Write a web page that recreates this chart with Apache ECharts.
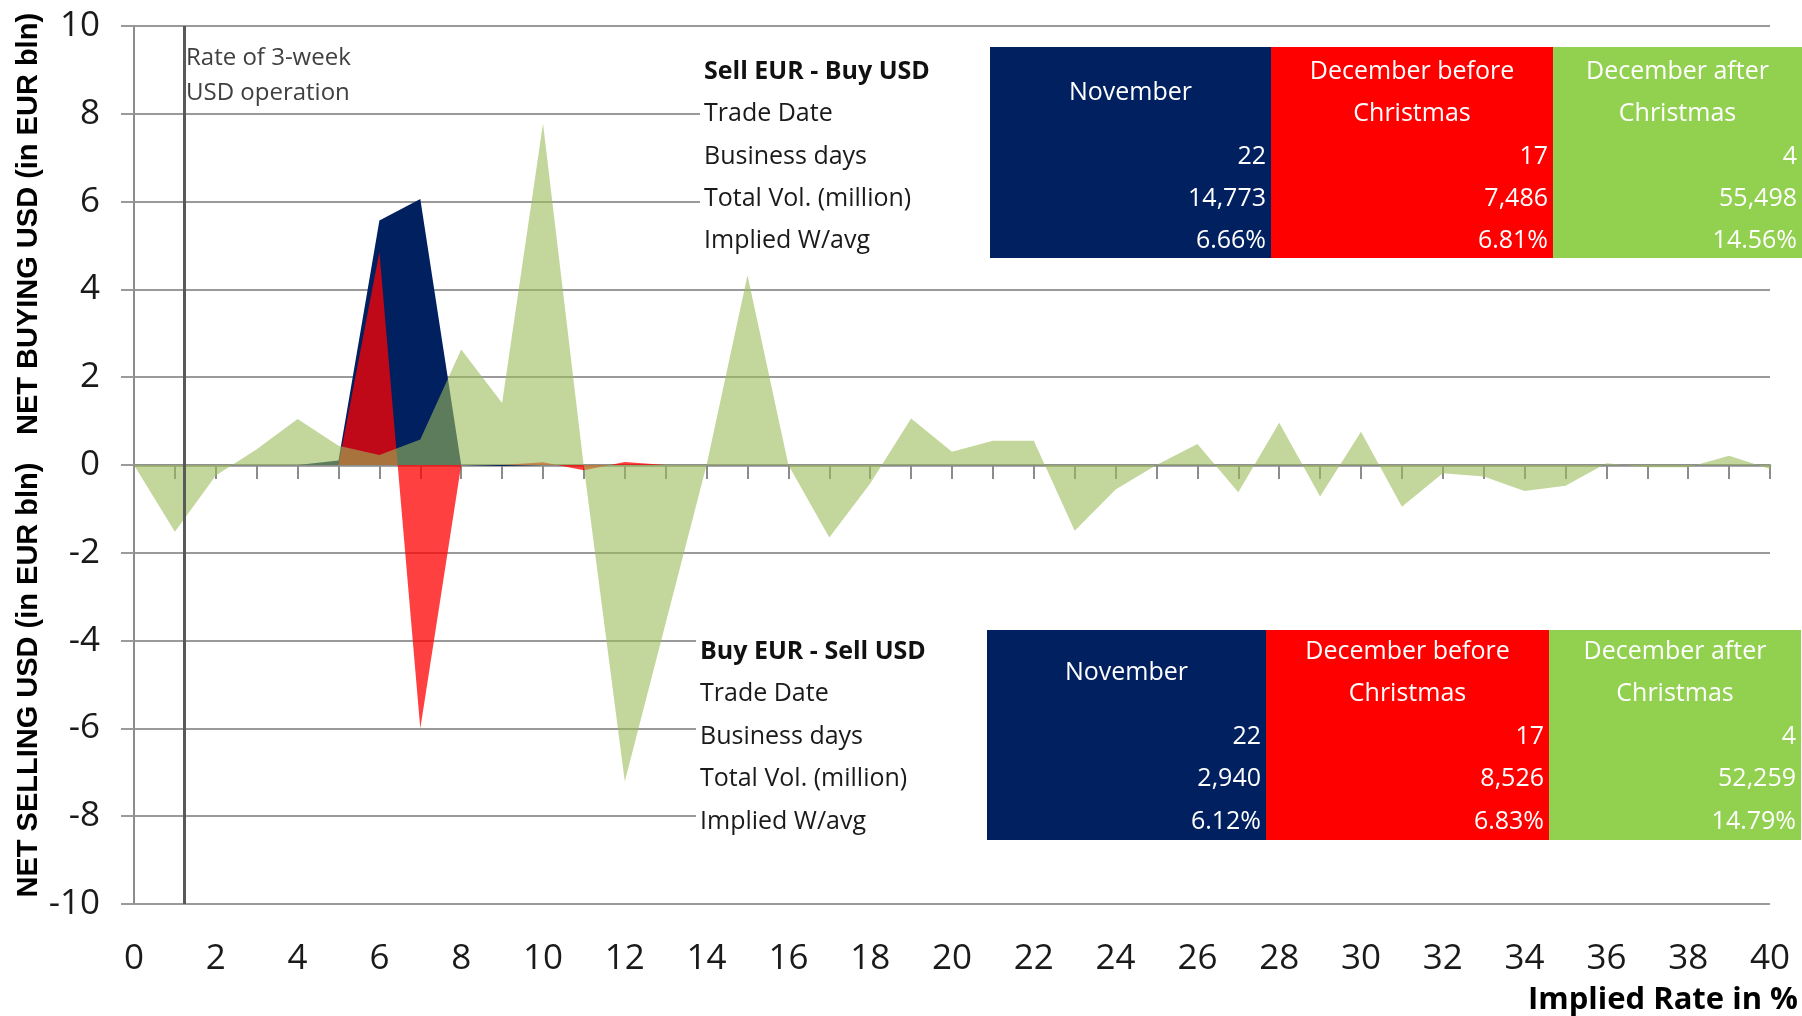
<!DOCTYPE html>
<html>
<head>
<meta charset="utf-8">
<script src="https://cdn.jsdelivr.net/npm/echarts@6/dist/echarts.min.js"></script>
<style>
  html, body { margin: 0; padding: 0; background: #fff; }
  #chart { width: 1802px; height: 1016px; }
</style>
</head>
<body>
<div id="chart"></div>
<script>
// implied rate in % (x categories)
const rates = [0, 1, 2, 3, 4, 5, 6, 7, 8, 9, 10, 11, 12, 13, 14, 15, 16, 17, 18, 19, 20,
  21, 22, 23, 24, 25, 26, 27, 28, 29, 30, 31, 32, 33, 34, 35, 36, 37, 38, 39, 40];

// net buying (+) / selling (-) USD, EUR bln
const november = [0, 0, 0, 0, 0, 0.1, 5.57, 6.06, 0, -0.02, 0, 0, 0, 0, 0, 0, 0, 0, 0, 0, 0,
  0, 0, 0, 0, 0, 0, 0, 0, 0, 0, 0, 0, 0, 0, 0, 0, 0, 0, 0, 0];
const decBeforeXmas = [0, 0, 0, 0, 0, 0, 4.85, -6.0, 0, 0, 0.06, -0.12, 0.07, 0, 0, 0, 0, 0, 0, 0, 0,
  0, 0, 0, 0, 0, 0, 0, 0, 0, 0, 0, 0, 0, 0, 0, 0, 0, 0, 0, 0];
const decAfterXmas = [0, -1.52, -0.24, 0.36, 1.05, 0.44, 0.23, 0.58, 2.63, 1.41, 7.78, -0.05, -7.21, -3.6, 0,
  4.32, 0, -1.65, -0.42, 1.06, 0.30, 0.55, 0.55, -1.50, -0.56, 0, 0.48, -0.62, 0.96, -0.72,
  0.76, -0.95, -0.19, -0.26, -0.59, -0.47, 0.04, -0.05, -0.05, 0.21, -0.09];

const usdOperationRate = 1.22;

// table contents
const periodHeaders = [['November'], ['December before', 'Christmas'], ['December after', 'Christmas']];
const rowLabels = ['Trade Date', 'Business days', 'Total Vol. (million)', 'Implied W/avg'];
const sellBusinessDays = ['22', '17', '4'];
const sellTotalVol = ['14,773', '7,486', '55,498'];
const sellImplied = ['6.66%', '6.81%', '14.56%'];
const buyBusinessDays = ['22', '17', '4'];
const buyTotalVol = ['2,940', '8,526', '52,259'];
const buyImplied = ['6.12%', '6.83%', '14.79%'];
const periodColors = ['#002060', '#ff0000', '#92d050'];

const FONT = '"Open Sans", "Liberation Sans", sans-serif';
const gridColor = '#9a9a9a';

const pairs = arr => rates.map((x, i) => [x, arr[i]]);

function txt(x, y, text, font, fill, align) {
  return { type: 'text', x: x, y: y, z: 100,
    style: { text: text, font: font, fill: fill, align: align || 'left', verticalAlign: 'middle' } };
}
function box(x, y, w, h, fill) {
  return { type: 'rect', z: 99, shape: { x: x, y: y, width: w, height: h }, style: { fill: fill } };
}

function table(t) {
  const els = [box(t.boxLeft, t.top, 1802 - t.boxLeft, t.bottom - t.top, '#fff')];
  els.push(txt(t.labelX, t.rows[0], t.title, 'bold 25px ' + FONT, '#111'));
  rowLabels.forEach((l, i) => els.push(txt(t.labelX, t.rows[i + 1], l, '25px ' + FONT, '#1a1a1a')));
  t.cellLefts.forEach((cl, j) => {
    const cr = j < 2 ? t.cellLefts[j + 1] : t.cellRight;
    els.push(box(cl, t.top, cr - cl, t.bottom - t.top, periodColors[j]));
    const h = periodHeaders[j];
    const cx = (cl + cr) / 2;
    if (h.length === 1) {
      els.push(txt(cx, (t.rows[0] + t.rows[1]) / 2, h[0], '25px ' + FONT, '#fff', 'center'));
    } else {
      els.push(txt(cx, t.rows[0], h[0], '25px ' + FONT, '#fff', 'center'));
      els.push(txt(cx, t.rows[1], h[1], '25px ' + FONT, '#fff', 'center'));
    }
    [t.days, t.vol, t.implied].forEach((arr, r) =>
      els.push(txt(cr - 5, t.rows[r + 2], arr[j], '25px ' + FONT, '#fff', 'right')));
  });
  return els;
}

const graphics = [].concat(
  table({ title: 'Sell EUR - Buy USD', boxLeft: 700, labelX: 704, top: 47, bottom: 258,
    rows: [72, 114, 157, 199, 241], cellLefts: [990, 1271, 1553], cellRight: 1802,
    days: sellBusinessDays, vol: sellTotalVol, implied: sellImplied }),
  table({ title: 'Buy EUR - Sell USD', boxLeft: 696, labelX: 700, top: 630, bottom: 840,
    rows: [652, 694, 737, 779, 822], cellLefts: [987, 1266, 1549], cellRight: 1801,
    days: buyBusinessDays, vol: buyTotalVol, implied: buyImplied }),
  [
    txt(186, 58, 'Rate of 3-week', '24px ' + FONT, '#404040'),
    txt(186, 93, 'USD operation', '24px ' + FONT, '#404040'),
    { type: 'text', x: 29, y: 224, rotation: Math.PI / 2, z: 100,
      style: { text: 'NET BUYING USD (in EUR bln)', font: 'bold 29px "Liberation Sans", sans-serif',
        fill: '#000', align: 'center', verticalAlign: 'middle' } },
    { type: 'text', x: 29, y: 680, rotation: Math.PI / 2, z: 100,
      style: { text: 'NET SELLING USD (in EUR bln)', font: 'bold 29px "Liberation Sans", sans-serif',
        fill: '#000', align: 'center', verticalAlign: 'middle' } },
    txt(1798, 1000, 'Implied Rate in %', 'bold 31px ' + FONT, '#000', 'right')
  ]
);

const chart = echarts.init(document.getElementById('chart'));
chart.setOption({
  animation: false,
  backgroundColor: '#fff',
  grid: { left: 134, right: 32, top: 26, bottom: 112 },
  xAxis: [
    {
      type: 'value', min: 0, max: 40, interval: 1, position: 'bottom',
      axisLine: { show: false, onZero: false },
      axisTick: { show: false },
      splitLine: { show: false },
      axisLabel: { fontSize: 35, fontFamily: FONT, color: '#1a1a1a', margin: 38,
        formatter: v => (v % 2 === 0 ? String(v) : '') }
    },
    {
      type: 'value', min: 0, max: 40, interval: 1, position: 'top',
      axisLine: { show: true, onZero: true, lineStyle: { color: '#8c8c8c', width: 2.5 } },
      axisTick: { show: true, inside: true, length: 14, lineStyle: { color: '#8c8c8c', width: 2 } },
      axisLabel: { show: false },
      splitLine: { show: false }
    }
  ],
  yAxis: {
    type: 'value', min: -10, max: 10, interval: 2,
    axisLine: { show: true, onZero: false, lineStyle: { color: '#8c8c8c', width: 2 } },
    axisTick: { show: true, length: 13, lineStyle: { color: gridColor, width: 2 } },
    splitLine: { show: true, lineStyle: { color: gridColor, width: 2 } },
    axisLabel: { fontSize: 35, fontFamily: FONT, color: '#1a1a1a', margin: 34 }
  },
  series: [
    {
      name: 'November', type: 'line', data: pairs(november), showSymbol: false,
      lineStyle: { width: 0 }, areaStyle: { color: '#002060', opacity: 1 },
      emphasis: { disabled: true }, silent: true
    },
    {
      name: 'December before Christmas', type: 'line', data: pairs(decBeforeXmas), showSymbol: false,
      lineStyle: { width: 0 }, areaStyle: { color: 'rgba(255,0,0,0.75)', opacity: 1 },
      emphasis: { disabled: true }, silent: true
    },
    {
      name: 'December after Christmas', type: 'line', data: pairs(decAfterXmas), showSymbol: false,
      lineStyle: { width: 0 }, areaStyle: { color: 'rgba(155,187,89,0.6)', opacity: 1 },
      emphasis: { disabled: true }, silent: true,
      markLine: {
        silent: true, symbol: 'none', label: { show: false },
        lineStyle: { color: '#595959', width: 3, type: 'solid' },
        data: [{ xAxis: usdOperationRate }]
      }
    }
  ],
  graphic: graphics
});
</script>
</body>
</html>
